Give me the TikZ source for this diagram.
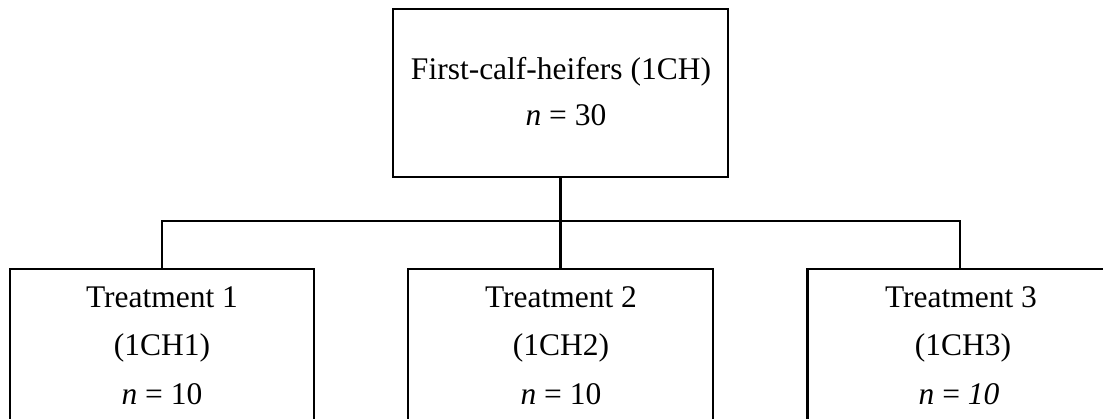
\documentclass[tikz,border=0pt]{standalone}
\usepackage{fontspec}
\setmainfont{Liberation Serif}
\usepackage{tikz}
\usetikzlibrary{positioning,calc}

\begin{document}
\begin{tikzpicture}[x=1pt, y=-1pt, 
		box/.style={draw=black, rectangle, line width=2.2pt, inner sep=0pt},
		word/.style={draw=none, rectangle, inner sep=0pt, anchor=base, font=\fontsize{31.5}{38}\selectfont},
		chainLine/.style={line width=2.2pt,-, color=black}
		]
		\useasboundingbox (0,0) rectangle (1103,419);
		
		\node[box, minimum width=335pt, minimum height=168pt](top) at (560.5,93) {};
		\node[box, minimum width=304pt, minimum height=220pt](t1) at (162,379) {};
		\node[box, minimum width=305pt, minimum height=220pt](t2) at (560.5,379) {};
		\node[box, minimum width=305pt, minimum height=220pt](t3) at (960,379) {};
		
		\node[word](toplbl) at (561,80) {First-calf-heifers (1CH)};
		\node[word](topn) at (566,126) {\textit{n} = 30};
		
		\node[word](t1lbl) at (162,308) {Treatment 1};
		\node[word](t1id) at (162,356) {(1CH1)};
		\node[word](t1n) at (162,404) {\textit{n} = 10};
		
		\node[word](t2lbl) at (561,308) {Treatment 2};
		\node[word](t2id) at (561,356) {(1CH2)};
		\node[word](t2n) at (561,404) {\textit{n} = 10};
		
		\node[word](t3lbl) at (961,308) {Treatment 3};
		\node[word](t3id) at (963,356) {(1CH3)};
		\node[word](t3n) at (959,404) {\textit{n} = \textit{10}};
		
		\coordinate (split) at (560.5,221);
		
		\draw [chainLine]  (top.south) -- (split);
		\draw [chainLine]  (t1.north) |- (split) -| (t3.north);
		\draw [chainLine]  (split) -- (t2.north);
		\end{tikzpicture}
\end{document}
